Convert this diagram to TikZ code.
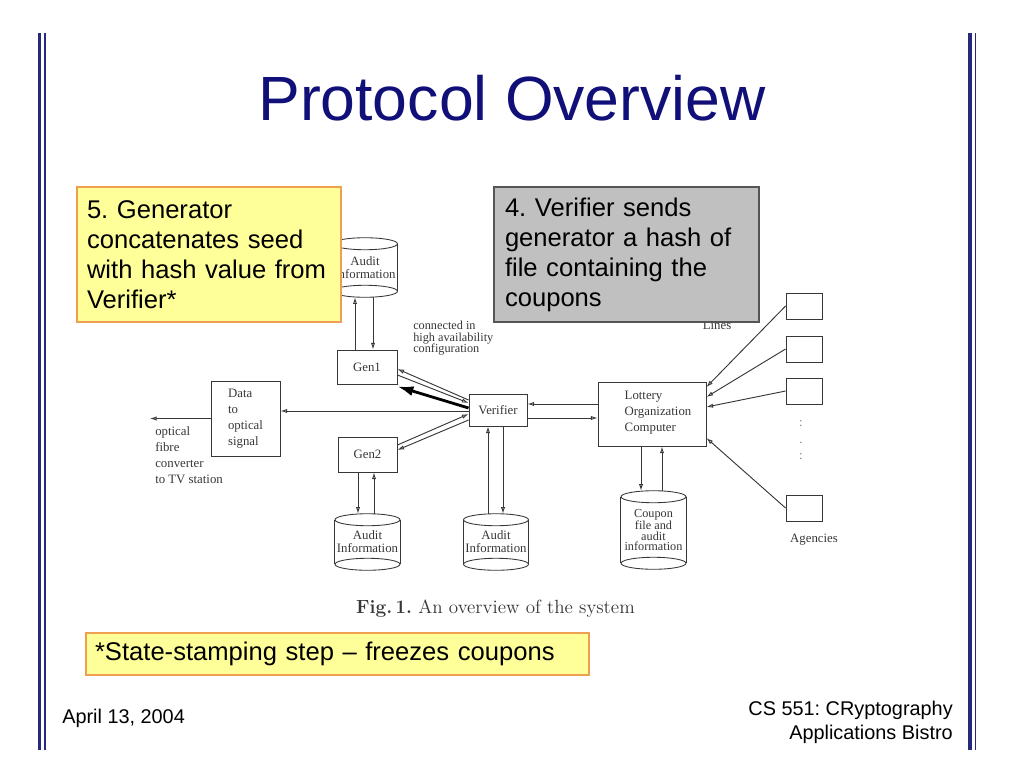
\documentclass[tikz,border=0pt]{standalone}
\usepackage{fontspec}
\setsansfont{Liberation Sans}
\newfontfamily\tms{Liberation Serif}
\usetikzlibrary{arrows.meta,calc}
\definecolor{navy}{RGB}{16,16,120}
\definecolor{barcol}{RGB}{40,40,125}
\definecolor{ylw}{RGB}{255,255,153}
\definecolor{ylwb}{RGB}{238,160,80}
\definecolor{gry}{RGB}{192,192,192}
\definecolor{gryb}{RGB}{85,85,85}
\definecolor{ln}{RGB}{55,55,55}
\frenchspacing
\begin{document}
\begin{tikzpicture}[x=0.75pt,y=-0.75pt,
  diag/.style={font=\tms\fontsize{9.6}{12}\selectfont, text=ln},
  box/.style={diag, draw=ln, line width=0.65pt, inner sep=0pt},
  cyl/.style={diag, inner sep=0pt, align=center, minimum width=48.75pt},
  lbl/.style={diag, inner sep=0pt, align=left},
  con/.style={draw=ln, line width=0.7pt, -{Latex[open,length=5pt,width=3.2pt]}},
  bigarrow/.style={draw=black, line width=2.1pt, -{Latex[length=12pt,width=7.5pt]}},
  cylline/.style={draw=ln, line width=0.65pt},
  slidetext/.style={font=\sffamily\fontsize{19.2}{22.5}\selectfont, text=black},
  footer/.style={font=\sffamily\fontsize{14.9}{18}\selectfont, text=black, inner sep=0pt},
  bar/.style={draw=barcol}]
\useasboundingbox (0,0) rectangle (1024,768);
% vertical bars
\draw[bar, line width=2.3pt] (39.5,33) -- (39.5,750);
\draw[bar, line width=1.1pt] (44.8,33) -- (44.8,750);
\draw[bar, line width=2.3pt] (970,33) -- (970,750);
\draw[bar, line width=1.1pt] (975.3,33) -- (975.3,750);
% title
\node[font=\sffamily\fontsize{46.9}{50}\selectfont, text=navy, anchor=base] (title) at (512,120) {Protocol Overview};

% diagram nodes
\node[box, minimum width=45pt, minimum height=25.5pt] (gen1) at (367,367) {Gen1\hspace{9pt}};
\node[box, minimum width=44.25pt, minimum height=26.25pt] (gen2) at (367.5,454.5) {Gen2\hspace{9pt}};
\node[box, minimum width=51.75pt, minimum height=56.25pt, align=left] (data) at (245.5,418.5) {Data\\to\\optical\\signal};
\node[box, minimum width=43.5pt, minimum height=24pt] (ver) at (498,410) {Verifier\hspace{4pt}};
\node[box, minimum width=81pt, minimum height=48pt] (lot) at (652,414) {};
\node[lbl] (lottxt) at (658,413) {Lottery\\Organization\\Computer};
\node[box, minimum width=27pt, minimum height=19.5pt] (ag1) at (804,306) {};
\node[box, minimum width=27pt, minimum height=19.5pt] (ag2) at (804,349) {};
\node[box, minimum width=27pt, minimum height=19.5pt] (ag3) at (804,391) {};
\node[box, minimum width=27pt, minimum height=19.5pt] (ag4) at (804,508) {};
\node[diag, text=gray, inner sep=0pt] (d1) at (801,424) {:};
\node[diag, text=gray, inner sep=0pt] (d2) at (801,443) {.};
\node[diag, text=gray, inner sep=0pt] (d3) at (801,457) {:};
\node[diag, inner sep=0pt] (agl) at (814,540) {Agencies};
\node[diag, inner sep=0pt] (linesl) at (717,325) {Lines};

% cylinders
\node[cyl, minimum height=44.25pt, font=\tms\fontsize{9.6}{9.75}\selectfont] (a1) at (365,267.5) {Audit\\Information};
\node[cyl, minimum height=42pt, font=\tms\fontsize{9.6}{9.75}\selectfont] (a2) at (367.5,542) {Audit\\Information};
\node[cyl, minimum height=42pt, font=\tms\fontsize{9.6}{9.75}\selectfont] (a3) at (496,542) {Audit\\Information};
\node[cyl, minimum height=58.5pt, font=\tms\fontsize{9.2}{8}\selectfont] (cf) at (653.5,530) {Coupon\\file and\\audit\\information};
\foreach \n in {a1,a2,a3,cf}{
  \draw[cylline] ($(\n.north west)+(0,6)$) -- ($(\n.south west)+(0,-6)$)
                 ($(\n.north east)+(0,6)$) -- ($(\n.south east)+(0,-6)$);
  \draw[cylline] ($(\n.north)+(0,6)$) ellipse [x radius=24.375pt, y radius=4.5pt];
  \draw[cylline] ($(\n.south)+(0,-6)$) ellipse [x radius=24.375pt, y radius=4.5pt];
}

% labels
\node[lbl, anchor=north west] (tvl) at (155,426) {optical\\fibre\\converter\\to TV station};
\node[lbl, anchor=north west, font=\tms\fontsize{9.2}{8.7}\selectfont] (hal) at (413,321) {connected in\\high availability\\configuration};
\coordinate (tv) at (150,418.5);

% connectors
\draw[con] ($(gen1.north)+(-12,0)$) -- ($(a1.south)+(-10,0)$);
\draw[con] ($(a1.south)+(8,0)$) -- ($(gen1.north)+(6,0)$);
\draw[con] ($(gen2.south)+(-9.5,0)$) -- ($(a2.north)+(-9.5,0)$);
\draw[con] ($(a2.north)+(6.5,0)$) -- ($(gen2.south)+(6.5,0)$);
\draw[con] ($(a3.north)+(-8,0)$) -- ($(ver.south)+(-10,0)$);
\draw[con] ($(ver.south)+(5,0)$) -- ($(a3.north)+(7,0)$);
\draw[con] ($(lot.south)+(-11,0)$) -- ($(cf.north)+(-12.5,0)$);
\draw[con] ($(cf.north)+(8.5,0)$) -- ($(lot.south)+(10,0)$);
\draw[con] ($(lot.west)+(0,-10)$) -- ($(ver.east)+(0,-6)$);
\draw[con] ($(ver.east)+(0,8)$) -- ($(lot.west)+(0,4)$);
\draw[con] ($(ver.west)+(0,1)$) -- ($(data.east)+(0,-7.5)$);
\draw[con] (data.west) -- (tv);
\draw[con] ($(ver.west)+(0,-10)$) -- ($(gen1.east)+(0,2)$);
\draw[con] ($(gen1.east)+(0,8)$) -- ($(ver.west)+(0,-7)$);
\draw[bigarrow] ($(ver.west)+(0,-2)$) -- ($(gen1.south east)+(0,2)$);
\draw[con] ($(gen2.east)+(0,-9.5)$) -- ($(ver.west)+(0,4)$);
\draw[con] ($(ver.west)+(0,10)$) -- ($(gen2.east)+(0,-4.5)$);
\draw[con] (ag1.west) -- ($(lot.east)+(0,-27)$);
\draw[con] (ag2.west) -- ($(lot.east)+(0,-17)$);
\draw[con] (ag3.west) -- ($(lot.east)+(0,-7)$);
\draw[con] (ag4.west) -- ($(lot.east)+(0,24)$);

% caption
\node[font=\fontsize{14.3}{16}\selectfont, text=ln, anchor=base] (cap) at (495.5,613) {\textbf{Fig.\,1.} An overview of the system};

% slide boxes
\node[slidetext, draw=ylwb, fill=ylw, line width=0.8pt, text width=183pt, inner xsep=7.5pt, minimum height=101.25pt, align=left] (b5) at (209,254.5) {5. Generator\\concatenates seed\\with hash value from\\Verifier*};
\node[slidetext, draw=gryb, fill=gry, line width=0.8pt, text width=182.25pt, inner xsep=8.25pt, minimum height=101.25pt, align=left] (b4) at (626.5,254.5) {4. Verifier sends\\generator a hash of\\file containing the\\coupons};
\node[slidetext, draw=ylwb, fill=ylw, line width=0.8pt, text width=363.75pt, inner xsep=6.75pt, minimum height=31.5pt, align=left] (bs) at (337.5,654) {*State-stamping step -- freezes coupons};

% footer
\node[footer, anchor=west] (date) at (62,718) {April 13, 2004};
\node[footer, anchor=east, align=right] (course) at (953,722) {CS 551: CRyptography\\Applications Bistro};
\end{tikzpicture}
\end{document}
